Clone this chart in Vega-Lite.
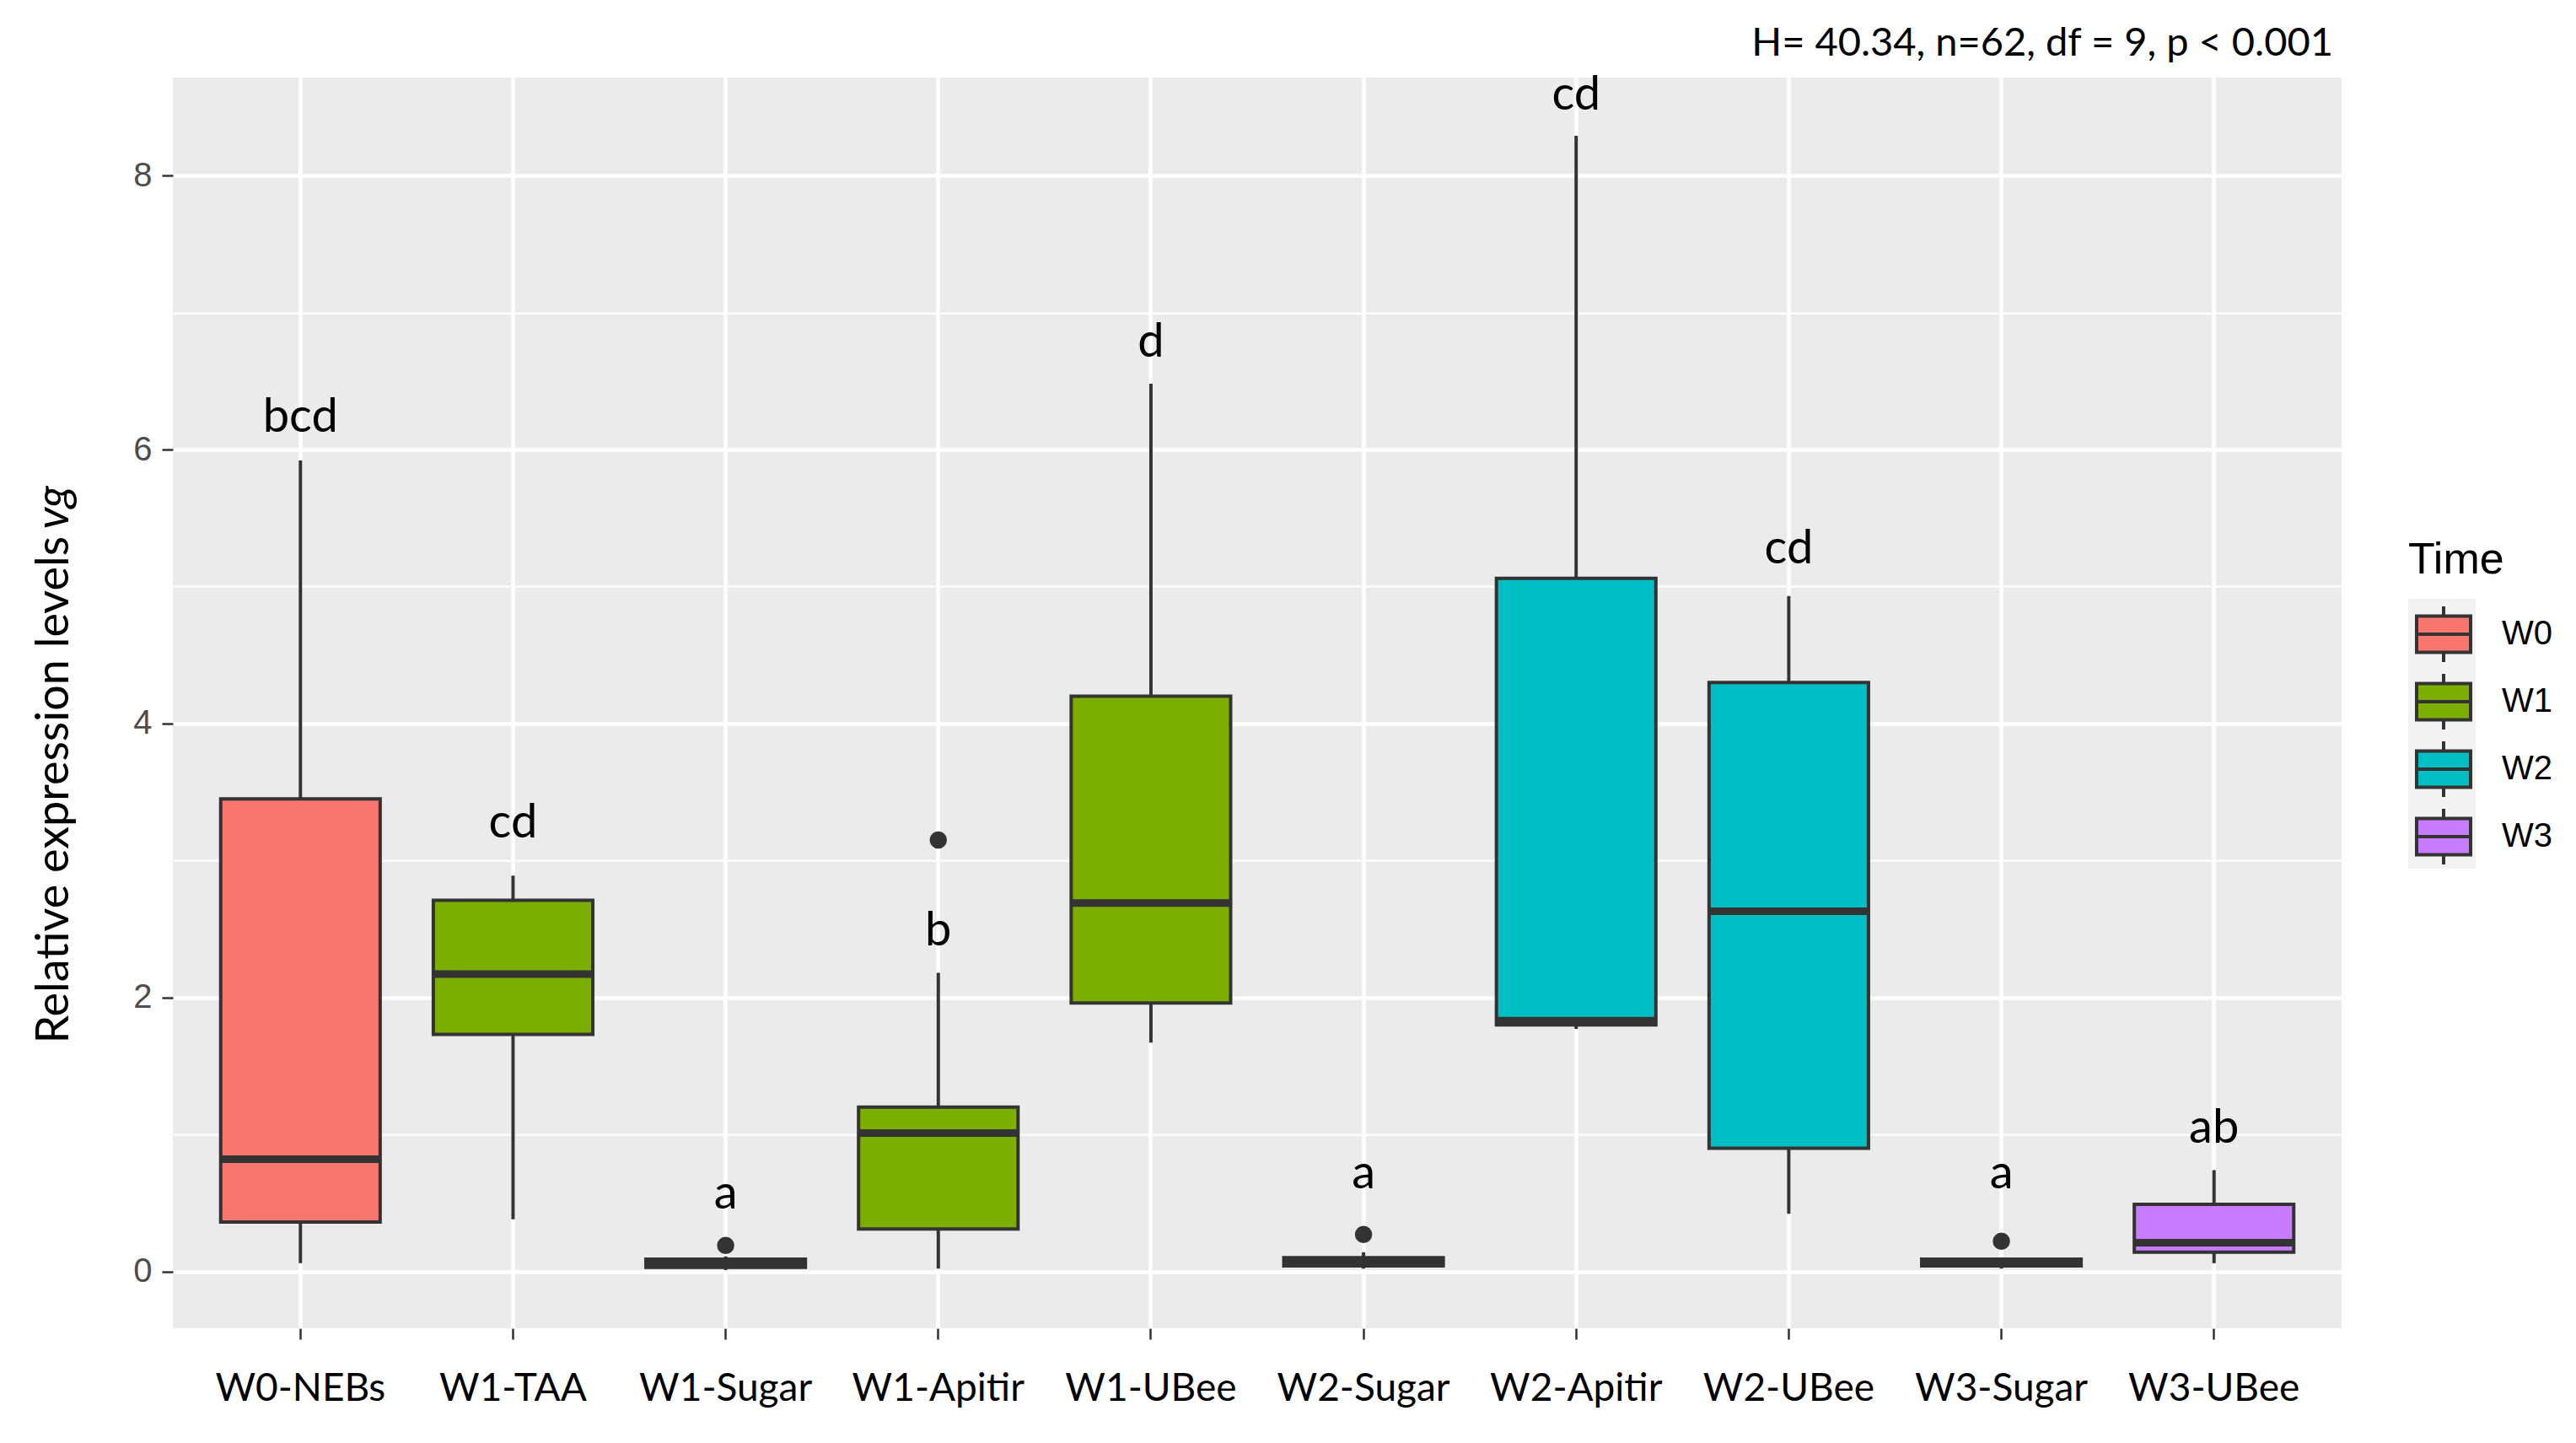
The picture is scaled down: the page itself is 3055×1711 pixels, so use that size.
{
  "$schema": "https://vega.github.io/schema/vega-lite/v6.json",
  "autosize": "none",
  "width": 2572,
  "height": 1483,
  "padding": {"left": 205, "top": 92, "right": 278, "bottom": 136},
  "background": "white",
  "config": {"view": {"fill": "#EBEBEB", "stroke": null}},
  "title": {
    "text": "H= 40.34, n=62, df = 9, p < 0.001",
    "anchor": "end",
    "frame": "group",
    "orient": "top",
    "font": "Lato",
    "fontSize": 47,
    "fontWeight": "normal",
    "color": "black",
    "baseline": "alphabetic",
    "offset": 27,
    "dx": -10,
    "dy": 55
  },
  "datasets": {
    "boxes": [
      {"group": "W0-NEBs", "time": "W0", "lower": 0.06, "q1": 0.36, "median": 0.82, "q3": 3.45, "upper": 5.92, "label": "bcd", "labelY": 6.13},
      {"group": "W1-TAA", "time": "W1", "lower": 0.38, "q1": 1.73, "median": 2.17, "q3": 2.71, "upper": 2.89, "label": "cd", "labelY": 3.17},
      {"group": "W1-Sugar", "time": "W1", "lower": 0.01, "q1": 0.03, "median": 0.06, "q3": 0.09, "upper": 0.11, "label": "a", "labelY": 0.46},
      {"group": "W1-Apitir", "time": "W1", "lower": 0.02, "q1": 0.31, "median": 1.01, "q3": 1.2, "upper": 2.18, "label": "b", "labelY": 2.38},
      {"group": "W1-UBee", "time": "W1", "lower": 1.67, "q1": 1.96, "median": 2.69, "q3": 4.2, "upper": 6.48, "label": "d", "labelY": 6.68},
      {"group": "W2-Sugar", "time": "W2", "lower": 0.02, "q1": 0.04, "median": 0.07, "q3": 0.1, "upper": 0.14, "label": "a", "labelY": 0.61},
      {"group": "W2-Apitir", "time": "W2", "lower": 1.77, "q1": 1.8, "median": 1.83, "q3": 5.06, "upper": 8.29, "label": "cd", "labelY": 8.48},
      {"group": "W2-UBee", "time": "W2", "lower": 0.42, "q1": 0.9, "median": 2.63, "q3": 4.3, "upper": 4.93, "label": "cd", "labelY": 5.17},
      {"group": "W3-Sugar", "time": "W3", "lower": 0.02, "q1": 0.04, "median": 0.06, "q3": 0.09, "upper": 0.1, "label": "a", "labelY": 0.61},
      {"group": "W3-UBee", "time": "W3", "lower": 0.06, "q1": 0.14, "median": 0.21, "q3": 0.49, "upper": 0.74, "label": "ab", "labelY": 0.94}
    ],
    "outliers": [
      {"group": "W1-Sugar", "value": 0.19},
      {"group": "W1-Apitir", "value": 3.15},
      {"group": "W2-Sugar", "value": 0.27},
      {"group": "W3-Sugar", "value": 0.22}
    ]
  },
  "resolve": {"axis": {"y": "independent"}},
  "layer": [
    {
      "data": {"name": "boxes"},
      "mark": {"type": "rule", "color": "#333333", "strokeWidth": 4},
      "encoding": {
        "x": {
          "field": "group", "type": "nominal",
          "sort": ["W0-NEBs", "W1-TAA", "W1-Sugar", "W1-Apitir", "W1-UBee", "W2-Sugar", "W2-Apitir", "W2-UBee", "W3-Sugar", "W3-UBee"],
          "scale": {"type": "band", "paddingInner": 0, "paddingOuter": 0.1},
          "axis": {
            "title": null, "domain": false, "grid": true, "gridColor": "white", "gridWidth": 4.5,
            "bandPosition": 0.5, "tickColor": "#333333", "tickWidth": 2.5, "tickSize": 13,
            "labelFont": "Lato", "labelFontSize": 46, "labelColor": "black", "labelPadding": 36, "labelAngle": 0,
            "labelLimit": 0
          }
        },
        "y": {
          "field": "lower", "type": "quantitative",
          "scale": {"domain": [-0.415, 8.715], "nice": false, "zero": false},
          "axis": {
            "orient": "left",
            "values": [0, 1, 2, 3, 4, 5, 6, 7, 8],
            "format": "d",
            "labelExpr": "datum.value % 2 === 0 ? datum.label : ''",
            "grid": true, "gridColor": "white",
            "gridWidth": {"condition": {"test": "datum.value % 2 === 0", "value": 4.5}, "value": 2.25},
            "tickOpacity": {"condition": {"test": "datum.value % 2 === 0", "value": 1}, "value": 0},
            "domain": false, "tickColor": "#333333", "tickWidth": 2.5, "tickSize": 13,
            "labelFont": "Liberation Sans", "labelFontSize": 40, "labelColor": "#4D4D4D", "labelPadding": 12,
            "title": "Relative expression levels", "titleFont": "Lato", "titleFontSize": 54,
            "titleFontWeight": "normal", "titleColor": "black", "titleAngle": -90,
            "titleX": -125, "titleY": 1145, "titleBaseline": "alphabetic", "titleAlign": "left"
          }
        },
        "y2": {"field": "upper"}
      }
    },
    {
      "data": {"name": "boxes"},
      "mark": {"type": "bar", "strokeWidth": 4, "width": {"band": 0.75}, "opacity": 1},
      "encoding": {
        "x": {"field": "group", "type": "nominal", "sort": ["W0-NEBs", "W1-TAA", "W1-Sugar", "W1-Apitir", "W1-UBee", "W2-Sugar", "W2-Apitir", "W2-UBee", "W3-Sugar", "W3-UBee"], "scale": {"type": "band", "paddingInner": 0, "paddingOuter": 0.1}},
        "y": {
          "field": "q1", "type": "quantitative",
          "axis": {
            "orient": "left", "labels": false, "ticks": false, "grid": false, "domain": false,
            "title": "vg", "titleFont": "Lato", "titleFontSize": 54, "titleFontStyle": "italic",
            "titleFontWeight": "normal", "titleColor": "black", "titleAngle": -90,
            "titleX": -125, "titleY": 535, "titleBaseline": "alphabetic", "titleAlign": "left"
          }
        },
        "y2": {"field": "q3"},
        "fill": {
          "field": "time", "type": "nominal",
          "scale": {"domain": ["W0", "W1", "W2", "W3"], "range": ["#F8766D", "#7CAE00", "#00BFC4", "#C77CFF"]},
          "legend": {
            "title": "Time", "orient": "none", "legendX": 2651, "legendY": 547, "zindex": 2,
            "titleFont": "Liberation Sans", "titleFontSize": 52, "titleFontWeight": "normal", "titleColor": "black",
            "titlePadding": 26,
            "labelFont": "Liberation Sans", "labelFontSize": 40, "labelColor": "black", "labelOffset": 34,
            "symbolType": "M-0.97,-0.65H0.97V0.65H-0.97Z M-0.97,0H0.97 M0,-0.65V-1 M0,0.65V1",
            "symbolSize": 4356, "symbolStrokeColor": "#333333", "symbolStrokeWidth": 4, "symbolOpacity": 1,
            "rowPadding": -2, "padding": 0, "symbolOffset": 7
          }
        },
        "stroke": {
          "field": "time", "type": "nominal",
          "scale": {"range": ["#333333", "#333333", "#333333", "#333333"]},
          "legend": {
            "title": null, "orient": "none", "legendX": 2651, "legendY": 618, "zindex": 0,
            "labelExpr": "''", "labelOffset": 0, "labelFontSize": 1,
            "symbolType": "square", "symbolSize": 6400, "symbolFillColor": "#F2F2F2",
            "symbolStrokeColor": "#F2F2F2", "symbolStrokeWidth": 0, "symbolOpacity": 1,
            "rowPadding": 0, "padding": 0, "symbolOffset": 0
          }
        }
      }
    },
    {
      "data": {"name": "boxes"},
      "mark": {"type": "tick", "color": "#333333", "thickness": 9, "size": 189, "opacity": 1},
      "encoding": {
        "x": {"field": "group", "type": "nominal", "sort": ["W0-NEBs", "W1-TAA", "W1-Sugar", "W1-Apitir", "W1-UBee", "W2-Sugar", "W2-Apitir", "W2-UBee", "W3-Sugar", "W3-UBee"], "scale": {"type": "band", "paddingInner": 0, "paddingOuter": 0.1}},
        "y": {"field": "median", "type": "quantitative", "axis": null}
      }
    },
    {
      "data": {"name": "outliers"},
      "mark": {"type": "point", "filled": true, "shape": "circle", "size": 420, "color": "#333333", "opacity": 1},
      "encoding": {
        "x": {"field": "group", "type": "nominal", "sort": ["W0-NEBs", "W1-TAA", "W1-Sugar", "W1-Apitir", "W1-UBee", "W2-Sugar", "W2-Apitir", "W2-UBee", "W3-Sugar", "W3-UBee"], "scale": {"type": "band", "paddingInner": 0, "paddingOuter": 0.1}},
        "y": {"field": "value", "type": "quantitative", "axis": null}
      }
    },
    {
      "data": {"name": "boxes"},
      "mark": {"type": "text", "font": "Lato", "fontSize": 56, "baseline": "alphabetic", "align": "center", "color": "black"},
      "encoding": {
        "x": {"field": "group", "type": "nominal", "sort": ["W0-NEBs", "W1-TAA", "W1-Sugar", "W1-Apitir", "W1-UBee", "W2-Sugar", "W2-Apitir", "W2-UBee", "W3-Sugar", "W3-UBee"], "scale": {"type": "band", "paddingInner": 0, "paddingOuter": 0.1}},
        "y": {"field": "labelY", "type": "quantitative", "axis": null},
        "text": {"field": "label", "type": "nominal"}
      }
    }
  ]
}
